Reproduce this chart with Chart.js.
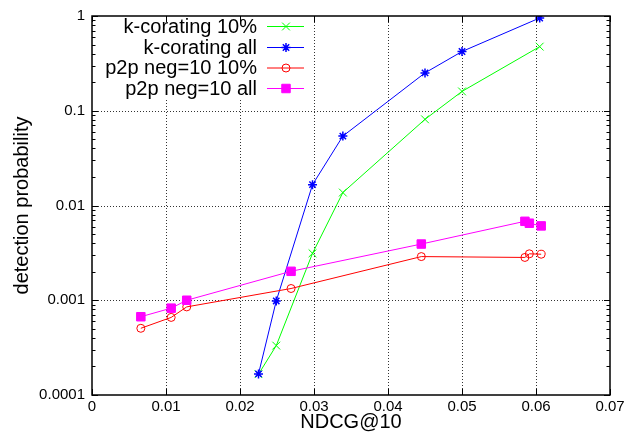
<!DOCTYPE html>
<html>
<head>
<meta charset="utf-8">
<script src="https://cdn.jsdelivr.net/npm/chart.js@4/dist/chart.umd.min.js"></script>
<style>
  html, body { margin: 0; padding: 0; background: #fff; }
  #wrap { width: 634px; height: 434px; }
</style>
</head>
<body>
<div id="wrap"><canvas id="c" width="634" height="434"></canvas></div>
<script>
// ---- Data ----
const xTickVals = [0, 0.01, 0.02, 0.03, 0.04, 0.05, 0.06, 0.07];
const xTickLabels = ['0', '0.01', '0.02', '0.03', '0.04', '0.05', '0.06', '0.07'];
const yTickVals = [0.0001, 0.001, 0.01, 0.1, 1];
const yTickLabels = ['0.0001', '0.001', '0.01', '0.1', '1'];

const seriesNames = ['k-corating 10%', 'k-corating all', 'p2p neg=10 10%', 'p2p neg=10 all'];
const seriesColors = ['#00ff00', '#0000ff', '#ff0000', '#ff00ff'];

const kcorNdcg = [0.0225, 0.0249, 0.0298, 0.0339, 0.0450, 0.0500, 0.0605];
const kcor10   = [0.000166, 0.000332, 0.00313, 0.0137, 0.0812, 0.160, 0.475];
const kcorAll  = [0.000167, 0.000984, 0.0166, 0.054, 0.251, 0.422, 0.953];

const p2pNdcg  = [0.0066, 0.0107, 0.0128, 0.0269, 0.0445, 0.0585, 0.0591, 0.0607];
const p2p10    = [0.000506, 0.000659, 0.000851, 0.00133, 0.00289, 0.00283, 0.00309, 0.00306];
const p2pAll   = [0.00067, 0.000825, 0.00100, 0.00202, 0.00392, 0.00681, 0.00650, 0.00609];

// ---- Build chart ----
const FONT = "'Liberation Sans', Arial, Helvetica, sans-serif";
const pts = (xs, ys) => xs.map((x, i) => ({x: x, y: ys[i]}));

const markerStyles = [
  {pointStyle: 'crossRot', radius: 5.5, fill: 'rgba(0,0,0,0)', bw: 1},
  {pointStyle: 'star', radius: 4.5, fill: 'rgba(0,0,0,0)', bw: 1.5},
  {pointStyle: 'circle', radius: 4, fill: 'rgba(0,0,0,0)', bw: 1},
  {pointStyle: 'rect', radius: 6, fill: seriesColors[3], bw: 1}
];

function makeDs(i, xs, ys) {
  return {
    label: seriesNames[i],
    data: pts(xs, ys),
    showLine: true,
    tension: 0,
    borderColor: seriesColors[i],
    borderWidth: 1,
    pointStyle: markerStyles[i].pointStyle,
    pointRadius: markerStyles[i].radius,
    pointHoverRadius: markerStyles[i].radius,
    pointBorderColor: seriesColors[i],
    pointBackgroundColor: markerStyles[i].fill,
    pointBorderWidth: markerStyles[i].bw,
    order: 4 - i
  };
}

const legendBox = {x1: 93, y1: 13, x2: 310, y2: 99};

const framePlugin = {
  id: 'gnuplotFrame',
  beforeDatasetsDraw(chart) {
    const {ctx, chartArea: a, scales: {x: xs, y: ys}} = chart;
    ctx.save();
    ctx.strokeStyle = '#333';
    ctx.lineWidth = 1;
    ctx.setLineDash([1, 2]);
    xTickVals.slice(1, -1).forEach(v => {
      const px = Math.round(xs.getPixelForValue(v)) + 0.5;
      ctx.beginPath(); ctx.moveTo(px, a.top); ctx.lineTo(px, a.bottom); ctx.stroke();
    });
    yTickVals.slice(1, -1).forEach(v => {
      const py = Math.round(ys.getPixelForValue(v)) + 0.5;
      ctx.beginPath(); ctx.moveTo(a.left, py); ctx.lineTo(a.right, py); ctx.stroke();
    });
    ctx.setLineDash([]);
    // opaque key background
    ctx.fillStyle = '#fff';
    ctx.fillRect(legendBox.x1, legendBox.y1, legendBox.x2 - legendBox.x1, legendBox.y2 - legendBox.y1);
    ctx.restore();
  },
  afterDatasetsDraw(chart) {
    const {ctx, chartArea: a, scales: {x: xs, y: ys}} = chart;
    ctx.save();
    ctx.strokeStyle = '#000';
    ctx.lineWidth = 1;
    const major = 6, minor = 3.5;
    // x ticks, bottom & top, inward
    xTickVals.forEach(v => {
      const px = Math.round(xs.getPixelForValue(v)) + 0.5;
      ctx.beginPath();
      ctx.moveTo(px, a.bottom); ctx.lineTo(px, a.bottom - major);
      ctx.moveTo(px, a.top); ctx.lineTo(px, a.top + major);
      ctx.stroke();
    });
    // y ticks, left & right, inward (major at decades, minor 2..9)
    for (let d = 0; d < yTickVals.length; d++) {
      const base = yTickVals[d];
      const py = Math.round(ys.getPixelForValue(base)) + 0.5;
      ctx.beginPath();
      ctx.moveTo(a.left, py); ctx.lineTo(a.left + major, py);
      ctx.moveTo(a.right, py); ctx.lineTo(a.right - major, py);
      ctx.stroke();
      if (d < yTickVals.length - 1) {
        for (let m = 2; m <= 9; m++) {
          const pm = Math.round(ys.getPixelForValue(base * m)) + 0.5;
          ctx.beginPath();
          ctx.moveTo(a.left, pm); ctx.lineTo(a.left + minor, pm);
          ctx.moveTo(a.right, pm); ctx.lineTo(a.right - minor, pm);
          ctx.stroke();
        }
      }
    }
    // frame
    ctx.lineWidth = 1.5;
    ctx.strokeRect(a.left, a.top, a.right - a.left, a.bottom - a.top);

    // key
    const rowsY = [26, 47, 67.5, 88];
    ctx.font = '20px ' + FONT;
    ctx.textAlign = 'right';
    ctx.textBaseline = 'middle';
    seriesNames.forEach((name, i) => {
      const y = rowsY[i];
      ctx.fillStyle = '#000';
      ctx.fillText(name, 257, y + 1);
      ctx.strokeStyle = seriesColors[i];
      ctx.lineWidth = 1;
      ctx.beginPath(); ctx.moveTo(267, y + 0.5); ctx.lineTo(304, y + 0.5); ctx.stroke();
      ctx.fillStyle = markerStyles[i].fill;
      ctx.lineWidth = markerStyles[i].bw;
      if (Chart.helpers && Chart.helpers.drawPoint) {
        Chart.helpers.drawPoint(ctx, {
          pointStyle: markerStyles[i].pointStyle,
          radius: markerStyles[i].radius,
          rotation: 0,
          borderWidth: markerStyles[i].bw
        }, 286, y + 0.5);
      }
    });
    ctx.restore();
  }
};

new Chart(document.getElementById('c'), {
  type: 'scatter',
  data: {
    datasets: [
      makeDs(0, kcorNdcg, kcor10),
      makeDs(1, kcorNdcg, kcorAll),
      makeDs(2, p2pNdcg, p2p10),
      makeDs(3, p2pNdcg, p2pAll)
    ]
  },
  options: {
    responsive: false,
    animation: false,
    events: [],
    layout: {padding: {top: 11, right: 24, left: 0, bottom: 0}},
    plugins: {legend: {display: false}, tooltip: {enabled: false}},
    scales: {
      x: {
        type: 'linear',
        min: 0, max: 0.07,
        afterBuildTicks: s => { s.ticks = xTickVals.map(v => ({value: v})); },
        afterFit: s => { s.height = 39; },
        ticks: {
          callback: (v, i) => xTickLabels[i],
          font: {family: FONT, size: 15},
          color: '#000',
          padding: 3,
          maxRotation: 0,
          autoSkip: false
        },
        grid: {display: false, drawTicks: false},
        border: {display: false},
        title: {
          display: true, text: 'NDCG@10', color: '#000',
          font: {family: FONT, size: 20, lineHeight: 1.2},
          padding: {top: 0, bottom: 0}
        }
      },
      y: {
        type: 'logarithmic',
        min: 0.0001, max: 1,
        afterBuildTicks: s => { s.ticks = yTickVals.map(v => ({value: v})); },
        afterFit: s => { s.width = 92; },
        ticks: {
          callback: (v, i) => yTickLabels[i],
          font: {family: FONT, size: 15},
          color: '#000',
          padding: 7,
          autoSkip: false
        },
        grid: {display: false, drawTicks: false},
        border: {display: false},
        title: {
          display: true, text: 'detection probability', color: '#000',
          font: {family: FONT, size: 20, lineHeight: 1.2},
          padding: {top: 10, bottom: 0}
        }
      }
    }
  },
  plugins: [framePlugin]
});
</script>
</body>
</html>
